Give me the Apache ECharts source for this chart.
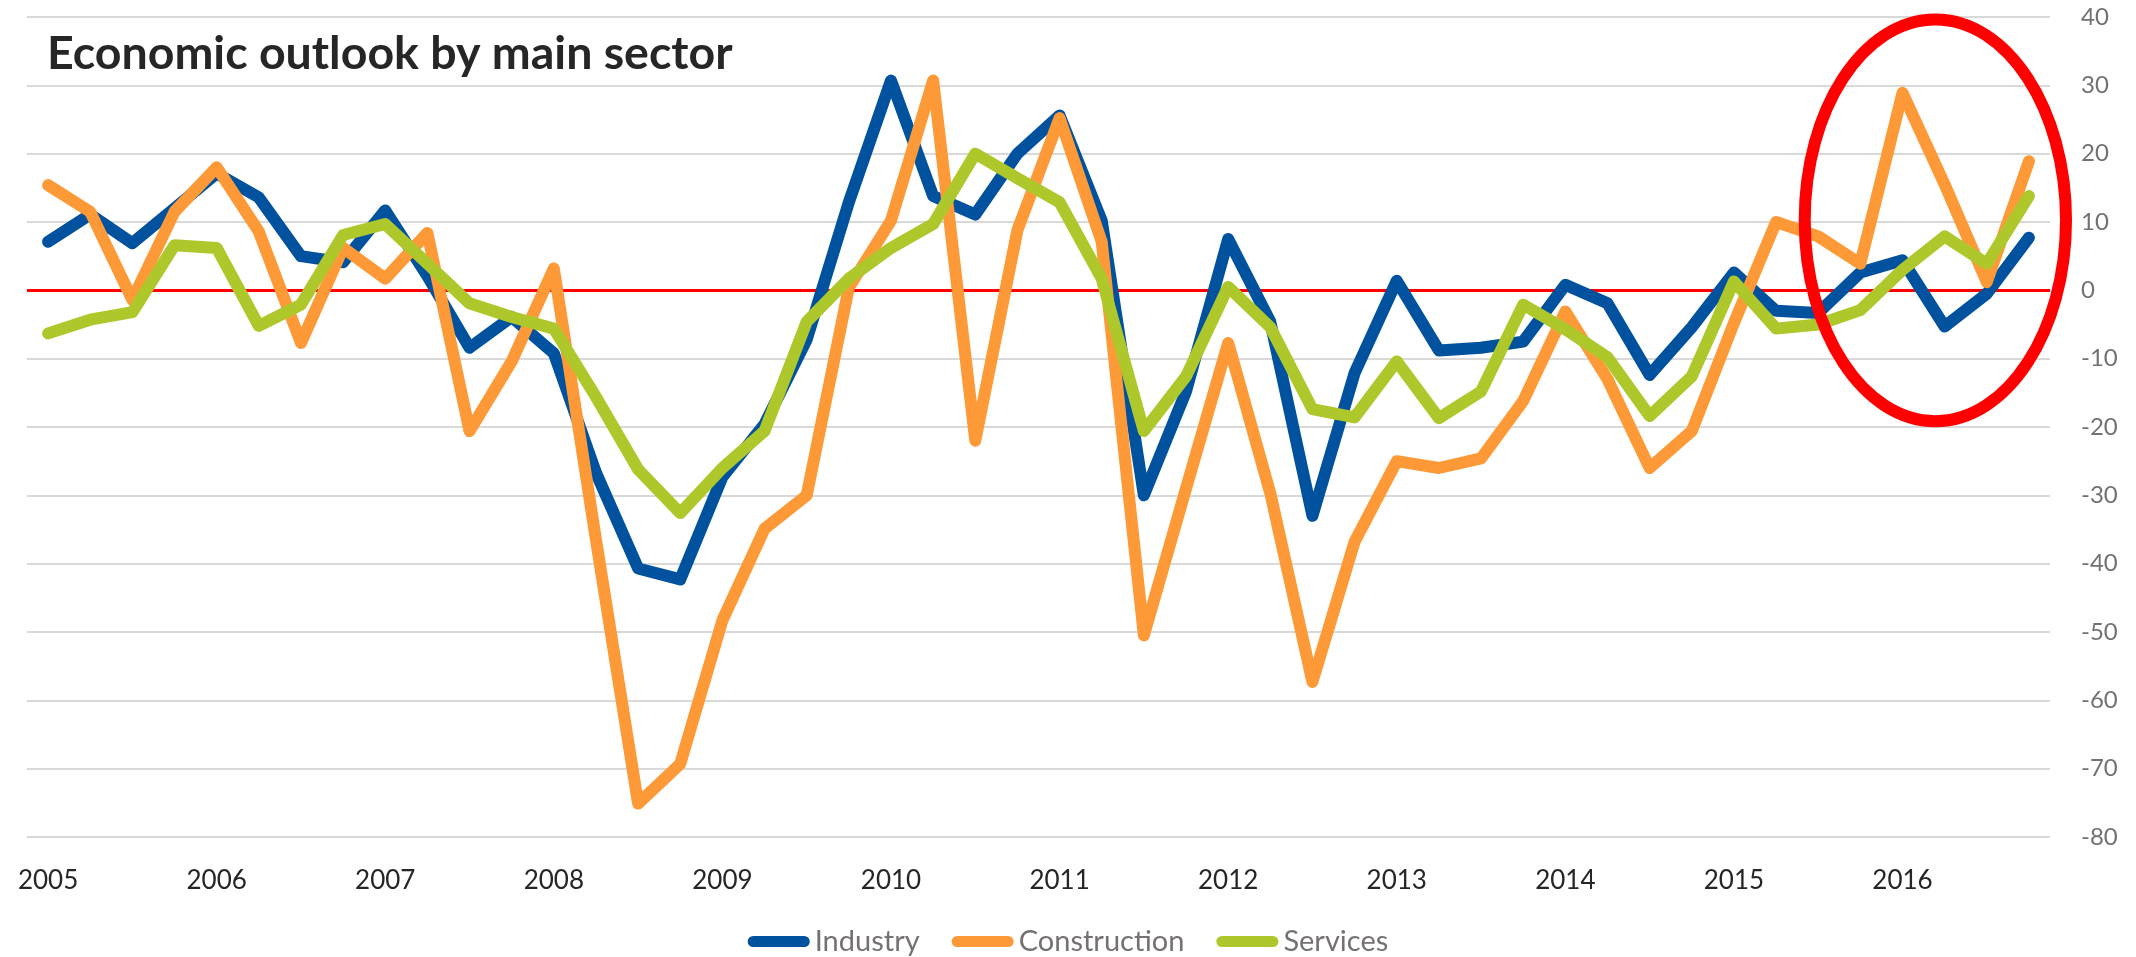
<!DOCTYPE html>
<html>
<head>
<meta charset="utf-8">
<title>Economic outlook by main sector</title>
<script src="https://cdn.jsdelivr.net/npm/echarts@6/dist/echarts.min.js"></script>
<style>
  html, body { margin: 0; padding: 0; background: #fff; }
  #chart { width: 2136px; height: 957px; }
</style>
</head>
<body>
<div id="chart"></div>
<script>
// quarterly survey balances, 2005Q1 .. 2016Q4
const years = ['2005', '2006', '2007', '2008', '2009', '2010', '2011', '2012', '2013', '2014', '2015', '2016'];
const quarters = ['Q1', 'Q2', 'Q3', 'Q4'];

const industry = [
  7.1, 11.1, 6.9, 12.0, 17.1, 13.6, 5.0, 4.1, 11.7, 2.1, -8.4, -3.9,
  -9.2, -26.7, -40.7, -42.3, -27.3, -19.6, -7.2, 12.9, 30.7, 13.8, 11.1, 20.0,
  25.6, 10.2, -30.0, -14.8, 7.5, -4.6, -33.0, -12.1, 1.4, -8.8, -8.4, -7.5,
  0.8, -1.9, -12.4, -5.4, 2.6, -3.0, -3.3, 2.6, 4.4, -5.3, -0.5, 7.7
];
const construction = [
  15.4, 11.5, -1.4, 11.5, 18.0, 8.6, -7.7, 6.2, 1.7, 8.4, -20.6, -10.4,
  3.2, -36.5, -75.1, -69.3, -48.3, -34.9, -30.0, 0.4, 10.2, 30.7, -22.0, 8.8,
  25.2, 7.1, -50.5, -29.0, -7.7, -29.7, -57.3, -36.8, -25.0, -26.0, -24.6, -16.2,
  -3.1, -13.0, -26.0, -20.6, -4.8, 10.0, 7.9, 3.9, 28.9, 15.5, 1.2, 18.9
];
const services = [
  -6.3, -4.3, -3.2, 6.6, 6.2, -5.2, -2.1, 8.1, 9.7, 3.9, -1.9, -3.9,
  -5.6, -15.6, -26.2, -32.6, -26.0, -20.6, -4.6, 1.7, 6.2, 9.7, 20.0, 16.4,
  12.9, 1.7, -20.6, -12.6, 0.5, -5.4, -17.4, -18.6, -10.4, -18.7, -14.8, -2.1,
  -5.7, -9.8, -18.4, -12.6, 1.3, -5.6, -5.0, -2.9, 3.0, 7.9, 3.9, 13.8
];

// highlight ring around the last quarters: centre (category index, value), radii (categories, value units)
const ringCenter = [44.78, 10.25];
const ringRadius = [3.1, 29.4];

const categories = [];
years.forEach(y => quarters.forEach(q => categories.push(y + ' ' + q)));

const blueColor = '#00519e',
      orangeColor = '#fd9a37',
      greenColor = '#aec72a'

const fontFamily = 'Lato, "Open Sans", sans-serif'
const capsule = 'path://M5.5,0 H56.5 A5.5,5.5 0 0 1 56.5,11 H5.5 A5.5,5.5 0 0 1 5.5,0 Z'

const chart = echarts.init(document.getElementById('chart'))

function lineSeries(name, data, color) {
  return {
    name: name,
    type: 'line',
    data: data,
    symbol: 'none',
    color: color,
    lineStyle: { width: 12, color: color, cap: 'round', join: 'round' },
    emphasis: { disabled: true }
  }
}

const options = {
  animation: false,
  title: {
    text: 'Economic outlook by main sector',
    left: 42,
    top: 25,
    textStyle: {
      fontFamily: fontFamily,
      fontWeight: 'bold',
      fontSize: 46.5,
      color: '#262626'
    }
  },
  grid: {
    left: 27,
    right: 86,
    top: 17,
    bottom: 120
  },
  legend: {
    left: 'center',
    top: 922,
    itemWidth: 62,
    itemHeight: 11,
    itemGap: 32,
    icon: capsule,
    textStyle: {
      fontFamily: fontFamily,
      fontSize: 29,
      color: '#767171'
    },
    data: ['Industry', 'Construction', 'Services']
  },
  xAxis: {
    type: 'category',
    data: categories,
    boundaryGap: true,
    axisLine: { show: false },
    axisTick: { show: false },
    axisLabel: {
      interval: 0,
      margin: 31,
      fontFamily: fontFamily,
      fontSize: 26,
      color: '#262626',
      formatter: function (val) {
        return val.indexOf('Q1') > 0 ? val.slice(0, 4) : ''
      }
    },
    splitLine: { show: false }
  },
  yAxis: {
    type: 'value',
    position: 'right',
    min: -80,
    max: 40,
    interval: 10,
    axisLine: { show: false },
    axisTick: { show: false },
    axisLabel: {
      margin: 31,
      fontFamily: fontFamily,
      fontSize: 24,
      color: '#767171'
    },
    splitLine: {
      show: true,
      lineStyle: { color: '#d9d9d9', width: 2 }
    }
  },
  series: [
    Object.assign(lineSeries('Industry', industry, blueColor), {
      markLine: {
        silent: true,
        symbol: 'none',
        z: 1,
        label: { show: false },
        lineStyle: { color: '#ff0000', width: 3, type: 'solid' },
        data: [{ yAxis: 0 }]
      }
    }),
    lineSeries('Construction', construction, orangeColor),
    lineSeries('Services', services, greenColor)
  ]
};
chart.setOption(options);

// red ring, placed through the axes
const baseIdx = Math.floor(ringCenter[0])
const p0 = chart.convertToPixel({ gridIndex: 0 }, [baseIdx, ringCenter[1]])
const p1 = chart.convertToPixel({ gridIndex: 0 }, [baseIdx + 1, ringCenter[1] + ringRadius[1]])
const step = p1[0] - p0[0]
chart.setOption({
  graphic: [{
    type: 'ellipse',
    silent: true,
    z: 10,
    shape: {
      cx: p0[0] + (ringCenter[0] - baseIdx) * step,
      cy: p0[1],
      rx: ringRadius[0] * step,
      ry: Math.abs(p0[1] - p1[1])
    },
    style: { fill: 'none', stroke: '#ff0000', lineWidth: 12 }
  }]
});
</script>
</body>
</html>
